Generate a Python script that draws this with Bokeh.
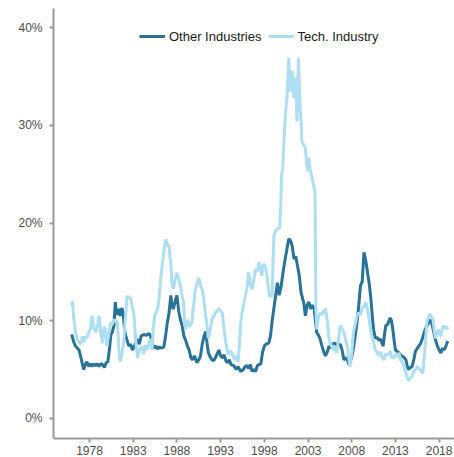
from bokeh.plotting import figure
from bokeh.models import FixedTicker, PrintfTickFormatter, Legend, LegendItem, Range1d
from bokeh.embed import file_html
from bokeh.resources import INLINE

other_years = [1975.95,1976.2,1976.4,1976.6,1976.8,1977.0,1977.2,1977.35,1977.5,1977.7,1977.9,1978.1,1978.3,1978.5,1978.7,1978.9,1979.1,1979.3,1979.5,1979.7,1979.9,1980.1,1980.3,1980.45,1980.6,1980.8,1980.95,1981.1,1981.3,1981.5,1981.7,1981.85,1982.0,1982.1,1982.3,1982.5,1982.7,1982.9,1983.1,1983.3,1983.5,1983.7,1983.9,1984.2,1984.5,1984.8,1985.0,1985.2,1985.4,1985.6,1985.8,1986.0,1986.2,1986.5,1986.7,1986.9,1987.1,1987.3,1987.45,1987.6,1987.8,1988.0,1988.2,1988.4,1988.6,1988.8,1989.0,1989.2,1989.4,1989.6,1989.8,1990.0,1990.3,1990.5,1990.7,1990.9,1991.1,1991.3,1991.45,1991.6,1991.8,1992.0,1992.2,1992.4,1992.6,1992.8,1993.0,1993.2,1993.4,1993.6,1993.8,1994.0,1994.2,1994.5,1994.8,1995.0,1995.3,1995.6,1995.8,1996.0,1996.2,1996.4,1996.6,1996.8,1997.0,1997.2,1997.4,1997.6,1997.8,1998.0,1998.2,1998.5,1998.7,1998.9,1999.1,1999.3,1999.5,1999.7,1999.9,2000.2,2000.4,2000.6,2000.8,2001.0,2001.2,2001.4,2001.6,2001.8,2002.0,2002.2,2002.4,2002.5,2002.7,2002.9,2003.1,2003.3,2003.5,2003.7,2003.85,2004.0,2004.2,2004.4,2004.6,2004.8,2005.0,2005.2,2005.4,2005.6,2005.8,2006.1,2006.4,2006.7,2006.9,2007.1,2007.4,2007.7,2007.9,2008.1,2008.3,2008.6,2008.8,2009.0,2009.2,2009.4,2009.6,2009.8,2010.0,2010.2,2010.35,2010.5,2010.7,2010.9,2011.1,2011.3,2011.6,2011.75,2011.9,2012.1,2012.4,2012.55,2012.7,2012.85,2013.0,2013.3,2013.6,2013.9,2014.2,2014.35,2014.5,2014.7,2014.9,2015.1,2015.3,2015.6,2015.9,2016.1,2016.4,2016.7,2017.0,2017.2,2017.4,2017.6,2017.8,2018.0,2018.2,2018.4,2018.5,2018.7,2018.85,2019.0]
other_values = [8.6,7.8,7.4,7.2,7.0,6.3,5.5,5.0,5.5,5.8,5.3,5.6,5.3,5.6,5.4,5.6,5.3,5.6,5.5,5.2,5.7,5.8,7.2,8.6,8.8,9.5,11.9,10.6,11.2,10.5,11.3,10.8,9.2,8.6,8.0,7.4,7.6,7.0,7.3,7.8,8.1,7.6,8.4,8.6,8.5,8.7,8.4,7.6,7.2,7.4,7.1,7.3,7.2,7.3,8.4,9.8,10.8,12.6,11.4,11.2,12.0,12.6,11.0,10.1,9.5,8.4,8.0,7.4,7.0,6.2,6.0,6.4,5.7,6.0,6.4,7.6,8.4,8.9,7.7,6.7,6.3,6.0,5.9,6.2,6.6,7.0,6.4,6.2,6.5,5.9,5.7,6.0,5.5,5.4,5.0,5.3,4.8,5.0,5.3,5.4,5.1,5.5,4.8,5.0,4.8,5.4,5.5,5.6,6.8,7.4,7.6,7.7,8.4,10.0,11.3,12.6,13.9,12.6,13.4,15.3,16.4,17.4,18.4,18.2,17.6,16.3,16.6,15.6,14.6,12.9,12.2,11.9,10.5,11.6,11.9,11.2,11.6,11.2,10.0,8.8,8.5,8.1,7.4,6.8,6.4,6.8,7.4,7.2,7.6,7.7,7.4,7.6,7.0,6.0,6.2,5.5,6.0,6.7,7.8,9.8,11.5,13.6,14.0,17.0,16.2,15.0,13.8,12.2,10.5,9.1,8.2,8.3,8.0,8.1,7.4,8.6,9.5,9.6,10.3,10.0,9.1,8.0,7.0,6.8,6.5,6.3,6.0,5.4,5.0,5.2,5.3,6.0,6.9,7.3,7.7,8.2,9.1,9.6,10.1,9.6,8.8,8.0,7.4,7.0,6.7,7.2,7.0,7.2,7.6,7.9]

tech_years = [1975.95,1976.05,1976.2,1976.3,1976.45,1976.6,1976.8,1977.0,1977.2,1977.35,1977.5,1977.7,1977.9,1978.1,1978.3,1978.5,1978.7,1978.9,1979.1,1979.3,1979.5,1979.65,1979.8,1980.0,1980.2,1980.4,1980.6,1980.8,1981.0,1981.2,1981.35,1981.5,1981.7,1981.9,1982.1,1982.3,1982.5,1982.7,1982.9,1983.1,1983.3,1983.5,1983.7,1984.0,1984.2,1984.4,1984.6,1984.8,1985.0,1985.15,1985.3,1985.45,1985.6,1985.8,1986.0,1986.1,1986.3,1986.5,1986.7,1986.85,1987.0,1987.1,1987.2,1987.3,1987.45,1987.6,1987.8,1988.0,1988.2,1988.4,1988.6,1988.75,1988.9,1989.0,1989.2,1989.4,1989.7,1989.9,1990.1,1990.3,1990.5,1990.7,1990.9,1991.1,1991.25,1991.4,1991.6,1991.8,1992.0,1992.2,1992.4,1992.6,1992.8,1993.0,1993.2,1993.4,1993.6,1993.8,1993.9,1994.1,1994.3,1994.45,1994.6,1994.8,1995.0,1995.15,1995.3,1995.45,1995.6,1995.8,1996.0,1996.1,1996.2,1996.4,1996.6,1996.8,1997.0,1997.2,1997.4,1997.55,1997.7,1997.9,1998.1,1998.3,1998.5,1998.6,1998.9,1999.0,1999.1,1999.3,1999.5,1999.75,1999.9,1999.96,2000.1,2000.2,2000.35,2000.5,2000.6,2000.7,2000.8,2000.9,2001.0,2001.1,2001.2,2001.3,2001.4,2001.5,2001.6,2001.7,2001.75,2001.85,2001.9,2002.0,2002.1,2002.2,2002.3,2002.5,2002.7,2002.85,2003.0,2003.1,2003.25,2003.4,2003.6,2003.8,2003.9,2004.0,2004.2,2004.4,2004.6,2004.8,2005.0,2005.2,2005.4,2005.6,2005.8,2005.95,2006.1,2006.3,2006.5,2006.7,2006.9,2007.1,2007.3,2007.5,2007.65,2007.8,2008.0,2008.2,2008.4,2008.6,2008.8,2009.0,2009.2,2009.4,2009.6,2009.8,2010.0,2010.15,2010.3,2010.5,2010.7,2010.9,2011.1,2011.3,2011.5,2011.7,2011.9,2012.2,2012.4,2012.6,2012.8,2013.0,2013.2,2013.4,2013.6,2013.8,2014.0,2014.2,2014.35,2014.5,2014.7,2014.9,2015.1,2015.3,2015.5,2015.7,2015.9,2016.1,2016.2,2016.3,2016.45,2016.6,2016.8,2016.9,2017.1,2017.3,2017.45,2017.6,2017.75,2017.9,2018.05,2018.2,2018.35,2018.5,2018.65,2018.8,2019.0]
tech_values = [11.5,12.0,10.2,9.5,8.6,8.1,7.8,7.6,8.4,7.8,8.4,8.2,8.8,9.1,10.5,9.3,8.8,9.4,10.5,8.6,7.7,9.4,9.1,7.4,8.6,9.8,9.6,10.1,10.0,9.8,7.2,5.8,6.6,7.7,10.2,12.5,12.4,12.3,11.4,10.5,7.7,6.2,7.0,7.4,6.6,7.5,7.0,7.8,8.1,7.0,9.2,10.5,10.8,11.2,12.5,13.9,15.6,17.0,18.3,18.0,17.6,17.7,16.5,16.0,13.6,13.3,14.2,14.9,14.3,13.6,12.5,11.9,9.6,9.1,10.1,9.4,9.8,11.5,13.2,13.8,14.4,13.6,13.2,11.9,10.8,9.8,8.2,9.0,10.1,10.4,10.8,11.0,11.3,11.0,10.8,9.0,7.7,6.8,6.5,6.9,6.7,6.3,6.0,6.4,5.8,7.5,9.8,10.8,11.5,12.4,13.2,14.0,15.0,13.8,13.2,14.2,15.3,15.0,16.0,15.4,14.6,15.8,15.6,14.6,13.2,12.5,12.5,16.0,18.7,19.2,19.4,19.5,22.0,24.9,25.6,27.5,30.1,32.0,32.8,35.0,36.9,34.0,33.5,35.0,35.6,33.5,32.8,33.8,34.9,31.0,30.4,34.5,36.9,34.5,31.8,30.5,28.4,28.0,27.7,26.0,25.3,26.7,25.5,24.9,24.0,23.2,11.2,9.1,10.4,10.8,10.6,11.0,11.2,10.0,8.1,7.6,7.2,7.0,7.4,6.7,8.2,9.5,9.2,8.8,8.0,7.4,6.2,5.3,6.6,8.8,9.6,10.5,10.8,10.6,11.3,11.4,11.9,11.2,10.1,9.2,8.4,7.8,7.0,6.8,6.4,6.8,6.2,6.0,6.6,6.5,6.9,6.2,6.2,6.6,6.3,6.7,6.0,5.7,5.3,4.6,4.2,3.9,4.1,4.3,4.8,5.0,5.3,5.1,4.9,4.6,5.2,6.4,8.0,9.8,10.5,10.7,10.4,10.1,9.0,8.2,8.6,9.1,8.7,8.4,9.2,9.5,9.2,9.4,9.1]

x_ticks = [1978, 1983, 1988, 1993, 1998, 2003, 2008, 2013, 2018]
y_ticks = [0, 10, 20, 30, 40]
series_names = ["Other Industries", "Tech. Industry"]

DARK = "#2A7398"
LIGHT = "#ADDEF1"
AXIS_GRAY = "#9a9a9a"
LABEL_GRAY = "#4d4d4d"
FONT = "Liberation Sans"

p = figure(width=454, height=457, output_backend="svg", toolbar_location=None,
           x_range=Range1d(1973.88, 2019.76), y_range=Range1d(-2.06, 41.96),
           min_border_left=53, min_border_right=0, min_border_top=8, min_border_bottom=0)
p.outline_line_color = None
p.xgrid.visible = False
p.ygrid.visible = False

r1 = p.line(other_years, other_values, line_color=DARK, line_width=3)
r2 = p.line(tech_years, tech_values, line_color=LIGHT, line_width=3)

for ax in (p.xaxis[0], p.yaxis[0]):
    ax.axis_line_color = AXIS_GRAY
    ax.axis_line_width = 2
    ax.major_tick_line_color = AXIS_GRAY
    ax.major_tick_line_width = 2
    ax.major_tick_out = 4
    ax.major_tick_in = 0
    ax.minor_tick_line_color = None
    ax.major_label_text_color = LABEL_GRAY
    ax.major_label_text_font = FONT
    ax.major_label_text_font_size = "12px"
    ax.major_label_standoff = 3

p.yaxis[0].major_label_standoff = 7

p.xaxis.ticker = FixedTicker(ticks=x_ticks)
p.xaxis.formatter = PrintfTickFormatter(format="%d")
p.yaxis.ticker = FixedTicker(ticks=y_ticks)
p.yaxis.formatter = PrintfTickFormatter(format="%d%%")

legend = Legend(items=[LegendItem(label=series_names[0], renderers=[r1]),
                       LegendItem(label=series_names[1], renderers=[r2])],
                orientation="horizontal", location=(86, 394),
                padding=0, margin=0, spacing=6, glyph_width=26, glyph_height=16,
                label_standoff=4, label_height=16,
                label_text_font=FONT, label_text_font_size="13px", label_text_color="#1a1a1a",
                background_fill_alpha=0, border_line_color=None)
p.add_layout(legend, "center")

open("out.html", "w").write(file_html(p, INLINE))
